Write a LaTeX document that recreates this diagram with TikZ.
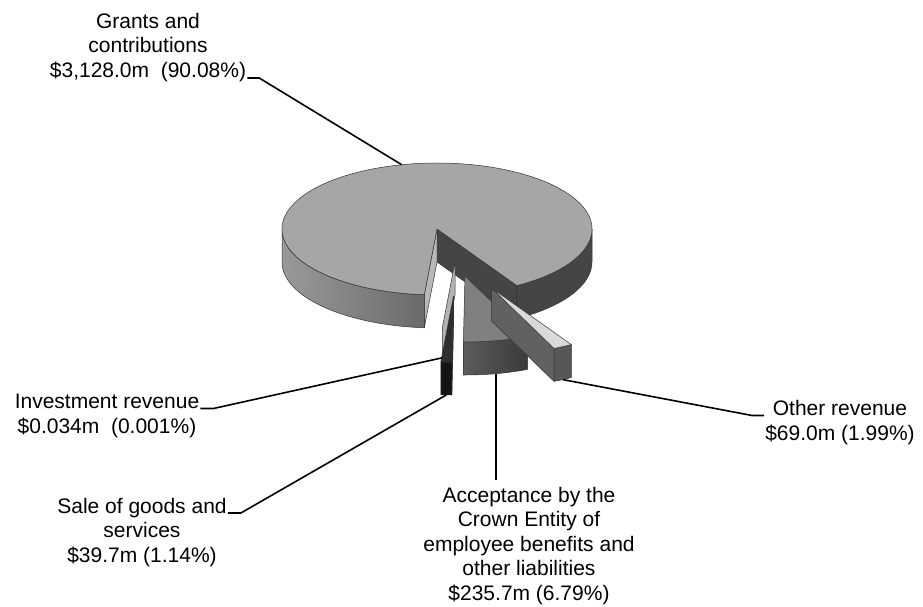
\documentclass[tikz,border=0pt]{standalone}
\usepackage{fontspec}
\setmainfont{Liberation Sans}
\usetikzlibrary{calc}

\begin{document}
\begin{tikzpicture}[
    x=1pt, y=-1pt,
    x radius=155, y radius=66,
    face/.style={draw=black!80, line width=0.5pt, line join=round}, % outline of every pie face
    leader/.style={line width=1.6pt, black}, % leader lines to the labels
    lbl/.style={align=center, inner sep=1pt, font=\fontsize{21}{24.5}\selectfont}
]
    \useasboundingbox (0,0) rectangle (923,606);

    % === Pie (centre of the top face at 437,229; depth 33) ===
    \begin{scope}[shift={(437,229)}, y=1pt]

        % Grants and contributions: -59 .. 265.3
        \draw[face, fill=black!73] (0,0) -- (-59:155 and 66) -- ++(0,-33) -- (0,-33) -- cycle;
        \draw[face, fill=black!28] (0,0) -- (265.3:155 and 66) -- ++(0,-33) -- (0,-33) -- cycle;
        \draw[face, left color=black!40, right color=black!58]
            (180:155 and 66) arc[start angle=180, end angle=265.3] -- ++(0,-33)
            arc[start angle=265.3, end angle=180] -- cycle;
        \draw[face, fill=black!73]
            (-59:155 and 66) arc[start angle=-59, end angle=0] -- ++(0,-33)
            arc[start angle=0, end angle=-59] -- cycle;
        \draw[face, fill=black!35] (0,0) -- (-59:155 and 66) arc[start angle=-59, end angle=265.3] -- cycle;
        \coordinate (grantsTip) at (103.15:155 and 66);

        % Investment revenue (a zero slice)
        \begin{scope}[shift={(18,-33)}]
            \draw[face, fill=black!30] (0,0) -- (-94.7:155 and 66) -- ++(0,-33) -- (0,-33) -- cycle;
            \coordinate (invTip) at ($(-94.7:155 and 66)+(0,-30)$);
        \end{scope}

        % Sale of goods and services: -94.7 .. -90.6
        \begin{scope}[shift={(16.5,-67)}]
            \draw[face, fill=black!85] (0,0) -- (-90.6:155 and 66) -- ++(0,-33) -- (0,-33) -- cycle;
            \draw[face, fill=black!92]
                (-94.7:155 and 66) arc[start angle=-94.7, end angle=-90.6] -- ++(0,-33)
                arc[start angle=-90.6, end angle=-94.7] -- cycle;
            \draw[face, fill=black!82] (0,0) -- (-94.7:155 and 66) arc[start angle=-94.7, end angle=-90.6] -- cycle;
            \coordinate (saleTip) at ($(-92.65:155 and 66)+(0,-33)$);
        \end{scope}

        % Acceptance of employee benefits: -90.6 .. -66.2
        \begin{scope}[shift={(28,-47)}]
            \draw[face, left color=black!64, right color=black!77]
                (-90.6:155 and 66) arc[start angle=-90.6, end angle=-66.2] -- ++(0,-33)
                arc[start angle=-66.2, end angle=-90.6] -- cycle;
            \draw[face, fill=black!50] (0,0) -- (-90.6:155 and 66) arc[start angle=-90.6, end angle=-66.2] -- cycle;
            \coordinate (accTip) at ($(-78.4:155 and 66)+(0,-33)$);
        \end{scope}

        % Other revenue: -66.2 .. -59
        \begin{scope}[shift={(54.5,-59)}]
            \draw[face, fill=black!62] (0,0) -- (-66.2:155 and 66) -- ++(0,-33) -- (0,-33) -- cycle;
            \draw[face, fill=black!66]
                (-66.2:155 and 66) arc[start angle=-66.2, end angle=-59] -- ++(0,-33)
                arc[start angle=-59, end angle=-66.2] -- cycle;
            \draw[face, fill=black!15] (0,0) -- (-66.2:155 and 66) arc[start angle=-66.2, end angle=-59] -- cycle;
            \coordinate (otherTip) at ($(-62.6:155 and 66)+(0,-33)$);
        \end{scope}
    \end{scope}

    % === Labels (placed by the baseline of their last line) ===
    \node[lbl, anchor=base] (grants) at (148,77) {Grants and\\contributions\\\$3,128.0m\ \ (90.08\%)};
    \node[lbl, anchor=base] (inv) at (107,433) {Investment revenue\\\$0.034m\ \ (0.001\%)};
    \node[lbl, anchor=base] (sale) at (142,562) {Sale of goods and\\services\\\$39.7m (1.14\%)};
    \node[lbl, anchor=base] (acc) at (529,600) {Acceptance by the\\Crown Entity of\\employee benefits and\\other liabilities\\\$235.7m (6.79\%)};
    \node[lbl, anchor=base] (other) at (840,440) {Other revenue\\\$69.0m (1.99\%)};

    % === Leader lines ===
    \draw[leader] ([yshift=-1pt]grants.base east) -- ++(12,0) -- (grantsTip);
    \draw[leader] ([yshift=24.5pt]inv.base east) -- ++(13,0) -- (invTip);
    \draw[leader] ([yshift=49pt]sale.base east) -- ++(13,0) -- (saleTip);
    \draw[leader] (accTip) -- ([yshift=6pt]accTip |- acc.north);
    \draw[leader] ([yshift=24.5pt]other.base west) -- ++(-12,0) -- (otherTip);

\end{tikzpicture}
\end{document}
